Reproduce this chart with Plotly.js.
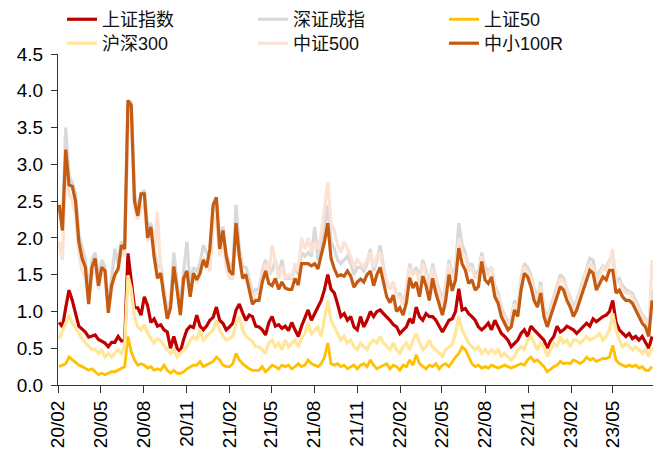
<!DOCTYPE html>
<html>
<head>
<meta charset="utf-8">
<script src="https://cdn.plot.ly/plotly-3.0.1.min.js"></script>
<style>html,body{margin:0;padding:0;background:#fff;}#chart{width:656px;height:458px;}</style>
</head>
<body>
<div id="chart"></div>
<script>
// Weekly readings, first week starting 2020-02-03
const startDate = '2020-02-03';

const shIndex = [0.85,0.79,1.05,1.29,1.15,0.95,0.80,0.76,0.72,0.65,
 0.66,0.68,0.62,0.60,0.57,0.52,0.58,0.58,0.66,0.60,
 0.60,1.79,1.38,1.05,1.05,0.95,1.20,1.08,0.85,0.90,
 0.80,0.82,0.75,0.72,0.50,0.66,0.50,0.45,0.62,0.75,
 0.80,0.78,0.95,0.80,0.75,0.80,0.88,0.92,1.06,0.88,
 0.84,0.75,0.79,0.84,1.02,1.10,0.98,0.88,0.95,0.93,
 0.80,0.79,0.75,0.68,0.85,0.93,0.80,0.82,0.77,0.80,
 0.74,0.85,0.75,0.66,0.80,0.90,1.02,0.88,0.97,1.06,
 1.15,1.30,1.50,1.30,1.25,1.10,0.93,0.97,0.88,0.93,
 0.79,0.75,0.93,0.79,0.88,1.00,0.93,1.00,1.02,0.97,
 0.93,0.88,0.82,0.79,0.70,0.75,0.79,0.90,0.84,1.06,
 0.93,0.88,0.97,0.93,0.93,0.88,0.80,0.72,0.80,0.88,
 0.90,1.00,1.31,1.02,1.04,0.97,0.93,0.88,0.79,0.75,
 0.79,0.84,0.75,0.88,0.79,0.70,0.66,0.61,0.52,0.57,
 0.61,0.70,0.75,0.66,0.80,0.75,0.70,0.66,0.61,0.50,
 0.60,0.66,0.80,0.72,0.75,0.80,0.77,0.75,0.70,0.75,
 0.80,0.84,0.80,0.90,0.86,0.90,0.93,0.95,1.00,1.15,
 0.85,0.75,0.70,0.66,0.70,0.63,0.66,0.61,0.66,0.57,
 0.50,0.66];

const szIndex = [2.40,2.15,3.50,2.85,2.75,2.60,2.05,1.85,1.70,1.30,
 1.70,1.80,1.45,1.70,1.60,1.05,1.45,1.85,1.65,1.95,
 1.90,3.80,3.85,2.60,2.40,2.60,2.65,2.15,2.20,1.85,
 1.60,1.65,1.30,1.00,1.15,1.80,1.40,1.05,1.55,1.95,
 1.35,1.60,1.55,1.65,1.90,1.80,1.70,2.40,2.50,1.95,
 2.15,1.80,1.65,1.60,2.45,1.85,1.60,1.60,1.45,1.25,
 1.30,1.30,1.55,1.70,1.50,1.55,1.70,1.50,1.70,1.45,
 1.45,1.45,1.60,1.50,1.80,1.75,1.80,1.75,2.15,1.70,
 1.90,2.10,2.45,1.95,1.85,1.70,1.65,1.70,1.75,1.65,
 1.50,1.60,1.60,1.55,1.65,1.85,1.55,1.70,1.90,1.60,
 1.40,1.30,1.40,1.20,1.25,1.10,1.30,1.65,1.50,1.60,
 1.45,1.70,1.55,1.35,1.65,1.45,1.30,1.15,1.35,1.70,
 1.50,1.60,2.20,1.90,1.80,1.60,1.65,1.50,1.55,1.80,
 1.60,1.55,1.60,1.35,1.25,1.05,0.95,0.85,0.90,1.15,
 1.05,1.45,1.65,1.60,1.50,1.30,1.20,1.40,1.05,0.90,
 1.05,1.20,1.35,1.50,1.45,1.30,1.20,1.05,1.15,1.30,
 1.45,1.60,1.72,1.70,1.45,1.55,1.62,1.58,1.70,1.72,
 1.40,1.45,1.35,1.30,1.28,1.25,1.15,1.05,0.95,0.90,
 0.78,1.30];

const sz50 = [0.25,0.27,0.29,0.38,0.34,0.31,0.27,0.25,0.22,0.20,
 0.22,0.18,0.14,0.16,0.14,0.16,0.18,0.18,0.20,0.22,
 0.25,0.66,0.45,0.34,0.27,0.29,0.27,0.23,0.25,0.20,
 0.22,0.20,0.27,0.20,0.16,0.20,0.16,0.16,0.18,0.22,
 0.25,0.27,0.27,0.32,0.25,0.27,0.29,0.32,0.38,0.34,
 0.27,0.25,0.25,0.29,0.43,0.34,0.29,0.25,0.22,0.20,
 0.20,0.20,0.25,0.18,0.22,0.27,0.25,0.22,0.27,0.25,
 0.27,0.22,0.25,0.29,0.25,0.27,0.34,0.29,0.27,0.25,
 0.29,0.38,0.57,0.29,0.27,0.29,0.25,0.27,0.22,0.25,
 0.27,0.22,0.27,0.29,0.25,0.34,0.27,0.22,0.25,0.27,
 0.29,0.22,0.27,0.25,0.20,0.27,0.25,0.34,0.27,0.41,
 0.29,0.25,0.22,0.27,0.25,0.29,0.22,0.27,0.29,0.25,
 0.32,0.38,0.43,0.52,0.48,0.38,0.29,0.25,0.27,0.23,
 0.25,0.23,0.27,0.25,0.23,0.25,0.27,0.25,0.23,0.25,
 0.27,0.29,0.27,0.34,0.38,0.32,0.34,0.29,0.25,0.18,
 0.22,0.25,0.27,0.32,0.29,0.30,0.29,0.34,0.32,0.29,
 0.32,0.38,0.34,0.36,0.32,0.34,0.36,0.36,0.38,0.54,
 0.34,0.29,0.27,0.25,0.27,0.25,0.27,0.23,0.25,0.20,
 0.20,0.25];

const hs300 = [0.63,0.75,0.84,0.95,0.84,0.78,0.70,0.63,0.57,0.52,
 0.48,0.48,0.43,0.47,0.38,0.43,0.38,0.43,0.48,0.43,
 0.52,1.49,1.30,0.93,0.79,0.75,0.82,0.70,0.63,0.57,
 0.63,0.60,0.54,0.48,0.43,0.48,0.38,0.43,0.48,0.52,
 0.61,0.66,0.61,0.75,0.61,0.66,0.70,0.75,0.88,0.75,
 0.66,0.61,0.63,0.66,0.84,0.93,0.75,0.66,0.63,0.59,
 0.52,0.52,0.48,0.43,0.57,0.61,0.52,0.57,0.48,0.61,
 0.52,0.57,0.61,0.52,0.63,0.70,0.84,0.70,0.75,0.79,
 0.66,0.93,1.15,0.88,0.79,0.70,0.61,0.66,0.57,0.61,
 0.52,0.48,0.57,0.52,0.48,0.57,0.61,0.57,0.66,0.57,
 0.52,0.48,0.57,0.48,0.43,0.52,0.57,0.48,0.61,0.70,
 0.57,0.48,0.52,0.61,0.52,0.48,0.43,0.39,0.48,0.52,
 0.55,0.70,0.93,0.75,0.66,0.57,0.52,0.48,0.52,0.43,
 0.48,0.43,0.48,0.43,0.48,0.39,0.43,0.39,0.34,0.39,
 0.48,0.52,0.48,0.61,0.66,0.57,0.48,0.57,0.52,0.39,
 0.48,0.57,0.52,0.66,0.57,0.61,0.52,0.61,0.61,0.57,
 0.61,0.66,0.61,0.63,0.66,0.70,0.61,0.66,0.75,0.97,
 0.75,0.61,0.52,0.57,0.52,0.48,0.52,0.48,0.43,0.48,
 0.39,0.52];

const zz500 = [1.95,1.70,2.90,2.60,2.50,2.30,1.80,1.55,1.45,1.15,
 1.50,1.60,1.30,1.55,1.50,1.00,1.30,1.50,1.55,1.80,
 1.75,3.50,3.60,2.40,2.25,2.40,2.45,1.95,2.10,1.75,
 2.35,1.55,1.20,0.95,1.05,1.60,1.30,0.95,1.40,1.50,
 1.25,1.45,1.40,1.50,1.75,1.60,1.55,2.20,2.30,1.75,
 1.95,1.60,1.45,1.45,2.00,1.70,1.45,1.50,1.35,1.15,
 1.25,1.25,1.50,1.65,1.50,1.90,1.65,1.45,1.60,1.45,
 1.50,1.45,1.65,1.55,2.00,1.85,2.00,1.80,1.95,1.85,
 2.05,2.40,2.75,2.20,2.10,1.90,1.80,1.95,1.85,1.75,
 1.60,1.70,1.65,1.60,1.70,1.80,1.60,1.75,1.80,1.55,
 1.40,1.30,1.40,1.20,1.20,1.10,1.30,1.60,1.50,1.55,
 1.40,1.65,1.50,1.30,1.60,1.40,1.25,1.10,1.30,1.65,
 1.45,1.55,2.00,1.80,1.75,1.55,1.60,1.45,1.50,1.75,
 1.55,1.50,1.60,1.30,1.20,1.00,0.90,0.82,0.88,1.10,
 1.00,1.40,1.60,1.55,1.45,1.25,1.15,1.35,1.00,0.88,
 1.00,1.15,1.30,1.45,1.40,1.30,1.15,1.00,1.10,1.25,
 1.40,1.55,1.65,1.60,1.40,1.50,1.60,1.55,1.65,1.85,
 1.40,1.40,1.30,1.25,1.25,1.20,1.10,1.00,0.92,0.88,
 0.75,1.70];

const zx100r = [2.45,2.10,3.20,2.72,2.70,2.50,1.95,1.72,1.60,1.10,
 1.60,1.72,1.35,1.60,1.55,0.98,1.35,1.50,1.58,1.90,
 1.85,3.87,3.80,2.50,2.30,2.60,2.60,2.00,2.15,1.74,
 1.45,1.52,1.20,0.90,1.05,1.61,1.30,0.95,1.45,1.55,
 1.20,1.52,1.43,1.52,1.70,1.60,1.85,2.45,2.55,1.85,
 2.10,1.75,1.55,1.50,2.20,1.75,1.45,1.50,1.30,1.10,
 1.15,1.15,1.40,1.55,1.38,1.35,1.45,1.30,1.40,1.32,
 1.30,1.30,1.45,1.36,1.65,1.65,1.65,1.62,1.65,1.58,
 1.75,1.95,2.20,1.72,1.58,1.48,1.50,1.48,1.55,1.48,
 1.33,1.40,1.44,1.40,1.50,1.55,1.35,1.50,1.60,1.39,
 1.20,1.12,1.22,1.00,1.05,0.95,1.12,1.46,1.32,1.40,
 1.20,1.48,1.35,1.15,1.45,1.25,1.10,0.95,1.15,1.50,
 1.28,1.43,1.86,1.65,1.56,1.38,1.43,1.29,1.34,1.68,
 1.43,1.38,1.47,1.20,1.11,0.93,0.84,0.75,0.79,1.02,
 0.93,1.29,1.52,1.47,1.34,1.15,1.06,1.25,0.93,0.79,
 0.93,1.06,1.20,1.34,1.29,1.15,1.06,0.93,1.02,1.15,
 1.29,1.43,1.56,1.52,1.29,1.38,1.47,1.43,1.56,1.56,
 1.25,1.29,1.20,1.15,1.15,1.11,1.02,0.93,0.84,0.79,
 0.66,1.15];

const seriesNames = ['上证指数','深证成指','上证50','沪深300','中证500','中小100R'];
const seriesColors = ['#C00000','#D9D9D9','#FFC000','#FFE699','#FBE2D5','#C55A11'];

// weekly dates
const dates = [];
const t0 = Date.parse(startDate + 'T00:00:00Z');
for (let i = 0; i < shIndex.length; i++) {
  dates.push(new Date(t0 + i * 7 * 86400000).toISOString().slice(0, 10));
}

const values = [shIndex, szIndex, sz50, hs300, zz500, zx100r];
const widths = [3.2, 3.2, 2.8, 3.2, 3.2, 3.2];
const traces = values.map((v, k) => ({
  x: dates, y: v, type: 'scatter', mode: 'lines', name: seriesNames[k],
  line: {color: seriesColors[k], width: widths[k]},
  legend: k < 3 ? 'legend' : 'legend2',
  hoverinfo: 'skip'
}));

const fontFam = 'Arial, "Liberation Sans", "Noto Sans CJK SC", sans-serif';
const layout = {
  width: 656, height: 458,
  margin: {l: 58, r: 3, t: 54, b: 73, autoexpand: false},
  paper_bgcolor: '#fff', plot_bgcolor: '#fff',
  font: {family: fontFam, color: '#000'},
  showlegend: true,
  xaxis: {
    type: 'date', range: ['2020-01-31 12:00', '2023-07-26'],
    tick0: '2020-02-01', dtick: 'M3', tickformat: '%y/%m', tickangle: -90,
    ticks: 'outside', ticklen: 7, tickcolor: '#333', tickwidth: 1,
    showline: true, linecolor: '#333', linewidth: 1,
    showgrid: false, zeroline: false, tickfont: {size: 19, color: '#000'}
  },
  yaxis: {
    range: [0, 4.5], tick0: 0, dtick: 0.5, tickformat: '.1f',
    ticks: 'outside', ticklen: 6, tickcolor: '#333', ticklabelstandoff: 4,
    showline: true, linecolor: '#333', linewidth: 1,
    showgrid: false, zeroline: false, tickfont: {size: 19, color: '#000'}
  },
  legend: {orientation: 'h', x: 0.0067, xanchor: 'left', y: 1.160, yanchor: 'top',
    entrywidth: 146, entrywidthmode: 'pixels', font: {size: 18, color: '#111'},
    bgcolor: 'rgba(0,0,0,0)', traceorder: 'normal'},
  legend2: {orientation: 'h', x: 0.0067, xanchor: 'left', y: 1.0876, yanchor: 'top',
    entrywidth: 146, entrywidthmode: 'pixels', font: {size: 18, color: '#111'},
    bgcolor: 'rgba(0,0,0,0)', traceorder: 'normal'}
};

Plotly.newPlot('chart', traces, layout, {staticPlot: true, displayModeBar: false});
</script>
</body>
</html>
